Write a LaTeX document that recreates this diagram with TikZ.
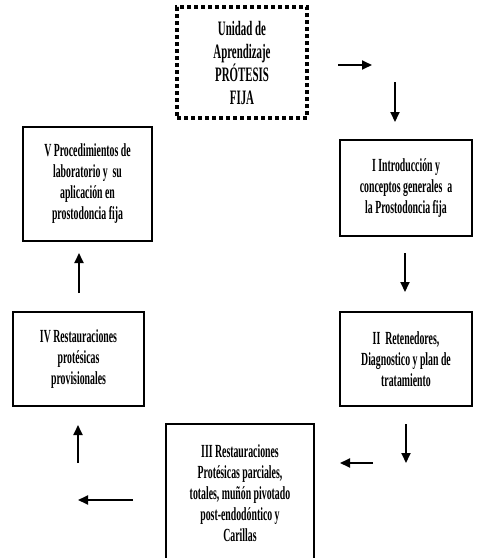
\documentclass[tikz,border=0pt]{standalone}
\usepackage{fontspec}
\setmainfont{Liberation Serif}[FakeStretch=0.53]
\usetikzlibrary{arrows.meta}
\tikzset{
  unit/.style={draw, line width=1.2pt, align=center, inner sep=2pt,
    font=\bfseries\fontsize{18.5}{21}\selectfont},
  title/.style={draw, line width=4pt, dash pattern=on 4pt off 3pt, align=center,
    font=\bfseries\fontsize{20.5}{23}\selectfont},
  flow/.style={-{Triangle[length=10pt,width=9pt]}, line width=1.8pt},
}
\begin{document}
\begin{tikzpicture}[x=1pt,y=-1pt]
\useasboundingbox (0,0) rectangle (478,558);
\clip (0,0) rectangle (478,558);
% the unit and its five themes
\node [title, minimum width=130pt, minimum height=111pt] (pf) at (242,62.5) {Unidad de\\Aprendizaje\\PRÓTESIS\\FIJA};
\node [unit, minimum width=132pt, minimum height=96pt] (t1) at (406,188) {I Introducción y\\conceptos generales~ a\\la Prostodoncia fija};
\node [unit, minimum width=132pt, minimum height=94pt] (t2) at (406,359) {II~ Retenedores,\\Diagnostico y plan de\\tratamiento};
\node [unit, minimum width=148pt, minimum height=138pt] (t3) at (240,493) {III Restauraciones\\Protésicas parciales,\\totales, muñón pivotado\\post-endodóntico y\\Carillas};
\node [unit, minimum width=131pt, minimum height=94pt] (t4) at (78.5,359) {IV Restauraciones\\protésicas\\provisionales};
\node [unit, minimum width=129pt, minimum height=114pt] (t5) at (87.5,184) {V Procedimientos de\\laboratorio y~ su\\aplicación en\\prostodoncia fija};
% arrow ends
\coordinate (a1) at (338,65);   \coordinate (b1) at (372,65);
\coordinate (a2) at (395,82);   \coordinate (b2) at (395,122);
\coordinate (a3) at (405,253);  \coordinate (b3) at (405,292);
\coordinate (a4) at (406,424);  \coordinate (b4) at (406,463);
\coordinate (a5) at (373,463);  \coordinate (b5) at (340,463);
\coordinate (a6) at (133,500);  \coordinate (b6) at (78,500);
\coordinate (a7) at (78,463);   \coordinate (b7) at (78,425);
\coordinate (a8) at (79,293);   \coordinate (b8) at (79,253);
\foreach \i in {1,...,8}
  \draw [flow] (a\i) -- (b\i);
\end{tikzpicture}
\end{document}
